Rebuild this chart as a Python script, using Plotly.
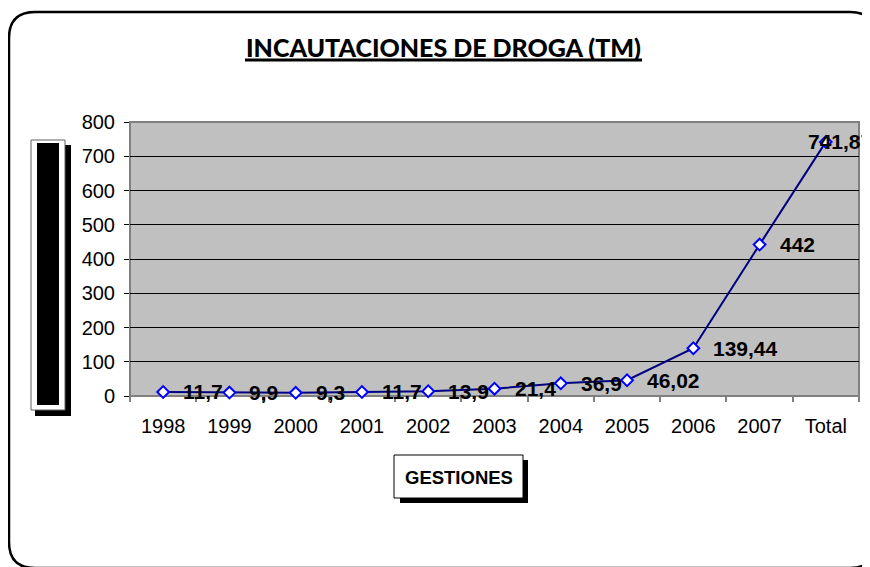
import plotly.graph_objects as go

# ---- data ----
categories = ["1998", "1999", "2000", "2001", "2002", "2003", "2004", "2005", "2006", "2007", "Total"]
values = [11.7, 9.9, 9.3, 11.7, 13.9, 21.4, 36.9, 46.02, 139.44, 442, 741.87]
y_ticks = [0, 100, 200, 300, 400, 500, 600, 700, 800]
title_text = "INCAUTACIONES DE DROGA (TM)"
x_title = "GESTIONES"

labels = [f"{v:g}".replace(".", ",") for v in values]

OFF = 8                      # page body margin
W, H = 870 - OFF, 567 - OFF  # figure size
PL, PR, PT, PB = 130, 859, 122, 396  # plot area in window pixels


def px(x):
    return (x - PL) / (PR - PL)


def py(y):
    return (PB - y) / (PB - PT)


def rrect_path(l, t, r, b, rad):
    return (
        f"M {px(l + rad)},{py(t)} H {px(r - rad)} "
        f"Q {px(r)},{py(t)} {px(r)},{py(t + rad)} V {py(b - rad)} "
        f"Q {px(r)},{py(b)} {px(r - rad)},{py(b)} H {px(l + rad)} "
        f"Q {px(l)},{py(b)} {px(l)},{py(b - rad)} V {py(t + rad)} "
        f"Q {px(l)},{py(t)} {px(l + rad)},{py(t)} Z"
    )


def rect(x0, y0, x1, y1, fill, line_color=None, line_width=0, layer="below"):
    return dict(
        type="rect", xref="paper", yref="paper",
        x0=px(x0), x1=px(x1), y0=py(y1), y1=py(y0),
        fillcolor=fill, layer=layer,
        line=dict(color=line_color or fill, width=line_width),
    )


shapes = []
# outer rounded frame with shadow
shapes.append(dict(type="path", xref="paper", yref="paper", path=rrect_path(15, 18, 882, 574, 26),
                   fillcolor="black", line=dict(width=0), layer="below"))
shapes.append(dict(type="path", xref="paper", yref="paper", path=rrect_path(9, 12, 876, 568, 26),
                   fillcolor="white", line=dict(color="black", width=2.5), layer="below"))
# plot area
shapes.append(rect(PL, PT, PR, PB, "#C0C0C0", "#808080", 2))
# y-axis title box (black bar)
shapes.append(rect(35, 145, 71, 416, "black"))
shapes.append(rect(31, 140, 65, 410, "white", "#606060", 1))
shapes.append(rect(37, 143, 59, 405, "black"))
# x-axis title box
shapes.append(rect(400, 460, 528, 503, "black"))
shapes.append(rect(394, 455, 523, 498, "white", "black", 1))
# title underline
shapes.append(dict(type="line", xref="paper", yref="paper", x0=px(245), x1=px(642), y0=py(60), y1=py(60),
                   line=dict(color="black", width=3), layer="above"))

fig = go.Figure()
fig.add_trace(go.Scatter(
    x=categories, y=values,
    mode="lines+markers",
    line=dict(color="#000080", width=2),
    marker=dict(symbol="diamond", size=9, color="white", line=dict(color="#0000FF", width=2)),
    cliponaxis=False,
    hoverinfo="skip",
))

label_font = dict(family="Liberation Sans, Arial", size=21, color="black")
annotations = [
    dict(xref="paper", yref="paper", x=px(443.5), y=py(47), xanchor="center", yanchor="middle",
         text=title_text, showarrow=False,
         font=dict(family="Lato", size=25, color="black", weight=900)),
    dict(xref="paper", yref="paper", x=px(458.5), y=py(477), xanchor="center", yanchor="middle",
         text=f"<b>{x_title}</b>", showarrow=False,
         font=dict(family="Liberation Sans, Arial", size=18.5, color="black")),
]
for i, (v, lab) in enumerate(zip(values, labels)):
    shift = -20 if i == len(values) - 1 else 18
    annotations.append(dict(xref="x", yref="y", x=i, y=v, xanchor="left", yanchor="middle",
                            xshift=shift, text=f"<b>{lab}</b>", showarrow=False, font=label_font))

fig.update_layout(
    width=W, height=H,
    margin=dict(l=PL - OFF, r=W + OFF - PR, t=PT - OFF, b=H + OFF - PB, pad=0),
    paper_bgcolor="white",
    plot_bgcolor="rgba(0,0,0,0)",
    showlegend=False,
    shapes=shapes,
    annotations=annotations,
    xaxis=dict(
        type="category", tickson="boundaries", ticks="outside", ticklen=5, tickcolor="#808080",
        tickwidth=2, showgrid=False, showline=False, zeroline=False,
        tickfont=dict(family="Liberation Sans, Arial", size=20, color="black"),
        ticklabelstandoff=16, range=[-0.5, len(categories) - 0.5],
    ),
    yaxis=dict(
        range=[0, 800], tickvals=y_ticks, ticks="outside", ticklen=5, tickcolor="black",
        showgrid=True, gridcolor="black", gridwidth=1, showline=False, zeroline=False,
        tickfont=dict(family="Liberation Sans, Arial", size=20, color="black"),
        ticklabelstandoff=5,
    ),
)

fig.write_html("out.html")
